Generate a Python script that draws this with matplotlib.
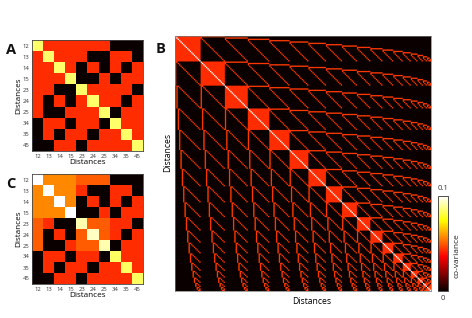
import numpy as np
import matplotlib
matplotlib.use("Agg")
import matplotlib.pyplot as plt
from matplotlib.cm import ScalarMappable
from matplotlib.colors import Normalize

plt.rcParams['font.family'] = ['Open Sans', 'DejaVu Sans']

pair_labels = ["12", "13", "14", "15", "23", "24", "25", "34", "35", "45"]
n_residues_b = 20
vmax = 0.1

# o = black, r = red
o = 0.0
r = 0.043
d = 0.085

cov_a = [
    [d, r, r, r, r, r, r, o, o, o],
    [r, d, r, r, r, o, o, r, r, o],
    [r, r, d, r, o, r, o, r, o, r],
    [r, r, r, d, o, o, r, o, r, r],
    [r, r, o, o, d, r, r, r, r, o],
    [r, o, r, o, r, d, r, r, o, r],
    [r, o, o, r, r, r, d, o, r, r],
    [o, r, r, o, r, r, o, d, r, r],
    [o, r, o, r, r, o, r, r, d, r],
    [o, o, r, r, o, r, r, r, r, d],
]

a = 0.057
b = 0.05
cov_c = [
    [0.1, a, a, a, b, b, b, o, o, o],
    [a, 0.1, a, a, r, o, o, r, r, o],
    [a, a, 0.1, a, o, r, o, r, o, r],
    [a, a, a, 0.1, o, o, r, o, r, r],
    [b, r, o, o, 0.092, b, b, r, r, o],
    [b, o, r, o, b, 0.094, b, r, o, r],
    [b, o, o, r, b, b, 0.092, o, r, r],
    [o, r, r, o, r, r, o, 0.084, r, r],
    [o, r, o, r, r, o, r, r, 0.084, r],
    [o, o, r, r, o, r, r, r, r, 0.084],
]

# lines in panel B are one cell wide, so they need a bit more value to stay red once resampled
line_b = 0.045
diag_b = 0.12


def pair_matrix(n):
    # distances that share a residue covary, the others do not
    pairs = [(i, j) for i in range(n) for j in range(i + 1, n)]
    cov = np.zeros((len(pairs), len(pairs)))
    for row, p in enumerate(pairs):
        for col, q in enumerate(pairs):
            if row == col:
                cov[row, col] = diag_b
            elif p[0] == q[0]:
                cov[row, col] = r
            elif set(p) & set(q):
                cov[row, col] = line_b
    return cov


def px_axes(fig, x0, y0, x1, y1):
    w, h = fig.get_size_inches() * fig.dpi
    return fig.add_axes([x0 / w, 1 - y1 / h, (x1 - x0) / w, (y1 - y0) / h])


def small_panel(ax, cov, letter, letter_y):
    ax.imshow(np.array(cov), cmap="hot", vmin=0, vmax=vmax, aspect="auto", interpolation="nearest")
    ax.set_xticks(range(10))
    ax.set_yticks(range(10))
    ax.set_xticklabels(pair_labels)
    ax.set_yticklabels(pair_labels)
    ax.tick_params(length=0, labelsize=4.2, labelcolor="#333333", pad=2)
    ax.set_xlabel("Distances", fontsize=5.9, labelpad=0)
    ax.set_ylabel("Distances", fontsize=5.9, labelpad=0)
    for s in ax.spines.values():
        s.set_color("#444444")
        s.set_linewidth(0.6)
    fig.text(6 / 472, 1 - letter_y / 318, letter, fontsize=10.5, fontweight="bold", va="center", color="#111111")


fig = plt.figure(figsize=(4.72, 3.18), dpi=100)

small_panel(px_axes(fig, 32, 40, 143, 151), cov_a, "A", 50)
small_panel(px_axes(fig, 32, 174, 143, 284), cov_c, "C", 184)

ax_b = px_axes(fig, 175, 36, 431, 291)
ax_b.imshow(pair_matrix(n_residues_b), cmap="hot", vmin=0, vmax=vmax, aspect="auto", interpolation="hanning")
ax_b.set_xticks([])
ax_b.set_yticks([])
ax_b.set_xlabel("Distances", fontsize=6.2)
ax_b.set_ylabel("Distances", fontsize=6.2)
ax_b.xaxis.set_label_coords(0.535, -0.025)
ax_b.yaxis.set_label_coords(-0.012, 0.545)
for s in ax_b.spines.values():
    s.set_color("#777777")
    s.set_linewidth(0.5)
fig.text(156 / 472, 1 - 49 / 318, "B", fontsize=10.5, fontweight="bold", va="center", color="#111111")

cax = px_axes(fig, 438, 196, 448, 291)
cbar = fig.colorbar(ScalarMappable(Normalize(0, vmax), cmap="hot"), cax=cax)
cbar.set_ticks([])
cbar.outline.set_linewidth(0.6)
cbar.outline.set_edgecolor("#333333")
fig.text(443 / 472, 1 - 189 / 318, "0.1", fontsize=5.5, ha="center", va="center", color="#333333")
fig.text(443 / 472, 1 - 298 / 318, "0", fontsize=5.5, ha="center", va="center", color="#333333")
fig.text(457 / 472, 1 - 256 / 318, "co-variance", fontsize=6, rotation=90, ha="center", va="center", color="#222222")

fig.savefig("out.png", dpi=100)
